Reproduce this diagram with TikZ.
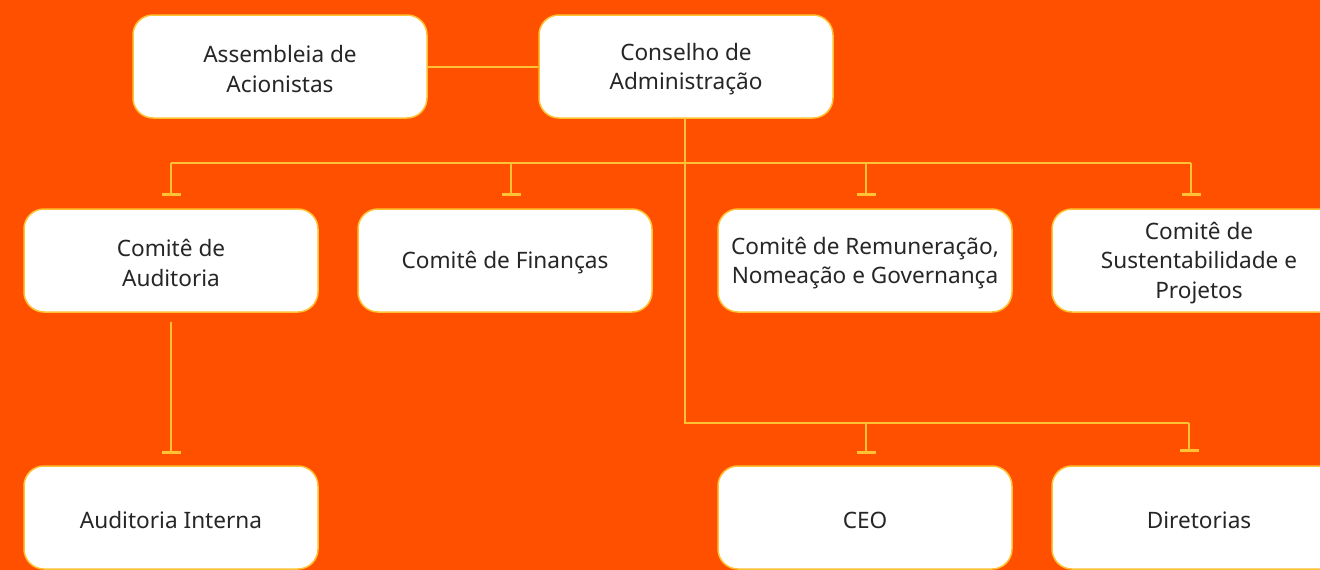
\documentclass[tikz,border=0pt]{standalone}
\usepackage{fontspec}
\setmainfont{Noto Sans}
\usetikzlibrary{arrows.meta}
\definecolor{bgorange}{HTML}{FF5000}
\definecolor{lineyel}{HTML}{FFC233}
\definecolor{txtgray}{HTML}{262626}
\tikzset{
  box/.style={draw=lineyel, line width=1.5pt, fill=white, rounded corners=20pt,
    minimum width=294pt, minimum height=103pt, align=center, text=txtgray,
    font=\fontsize{23pt}{29.5pt}\selectfont, inner sep=0pt},
  lbl/.style={align=center, text=txtgray, font=\fontsize{22.6pt}{29.5pt}\selectfont, inner sep=0pt},
  link/.style={draw=lineyel, line width=2pt},
  droplink/.style={link, -{Bar[width=19pt,line width=3pt]}},
}
\begin{document}
\begin{tikzpicture}[x=1pt,y=-1pt]
\fill[bgorange] (0,0) rectangle (1320,570);
\useasboundingbox (0,0) rectangle (1320,570);

\node[box] (asm) at (280,66.5) {};
\node[box] (cons) at (686,66.5) {};
\node[box] (aud) at (171,260.5) {};
\node[box] (fin) at (505,260.5) {};
\node[box] (rem) at (865,260.5) {};
\node[box] (sus) at (1199,260.5) {};
\node[box] (int) at (171,517.5) {};
\node[box] (ceo) at (865,517.5) {};
\node[box] (dir) at (1199,517.5) {};

\node[lbl] (asmT) at ([yshift=-2.5pt]asm.center) {Assembleia de\\Acionistas};
\node[lbl] (consT) at ([yshift=-2.5pt]cons.center) {Conselho de\\Administração};
\node[lbl] (audT) at ([yshift=-2.5pt]aud.center) {Comitê de\\Auditoria};
\node[lbl] (finT) at ([yshift=-2.5pt]fin.center) {Comitê de Finanças};
\node[lbl] (remT) at ([yshift=-2.5pt]rem.center) {Comitê de Remuneração,\\Nomeação e Governança};
\node[lbl] (susT) at ([yshift=-2.5pt]sus.center) {Comitê de\\Sustentabilidade e\\Projetos};
\node[lbl] (intT) at ([yshift=-2.5pt]int.center) {Auditoria Interna};
\node[lbl] (ceoT) at ([yshift=-2.5pt]ceo.center) {CEO};
\node[lbl] (dirT) at ([yshift=-2.5pt]dir.center) {Diretorias};

% top link
\draw[link] (asm.east) -- (cons.west);

% bus
\coordinate (j1) at (685,163);
\coordinate (j2) at (685,423);
\coordinate (bL) at (171,163);
\coordinate (bF) at (511,163);
\coordinate (bR) at (866,163);
\coordinate (bS) at (1191,163);
\coordinate (cC) at (866,423);
\coordinate (cD) at (1189,423);
\coordinate (aTop) at (171,322);

\draw[link] (cons.south -| j1) -- (j2) -- (cD);
\draw[link] (bL) -- (bS);

\draw[droplink, shorten >=12pt] (bL) -- (aud.north);
\draw[droplink, shorten >=12pt] (bF) -- (bF |- fin.north);
\draw[droplink, shorten >=12pt] (bR) -- (bR |- rem.north);
\draw[droplink, shorten >=12pt] (bS) -- (bS |- sus.north);
\draw[droplink, shorten >=11pt] (cC) -- (cC |- ceo.north);
\draw[droplink, shorten >=13pt] (cD) -- (cD |- dir.north);
\draw[droplink, shorten >=11pt] (aTop) -- (int.north);
\end{tikzpicture}
\end{document}
